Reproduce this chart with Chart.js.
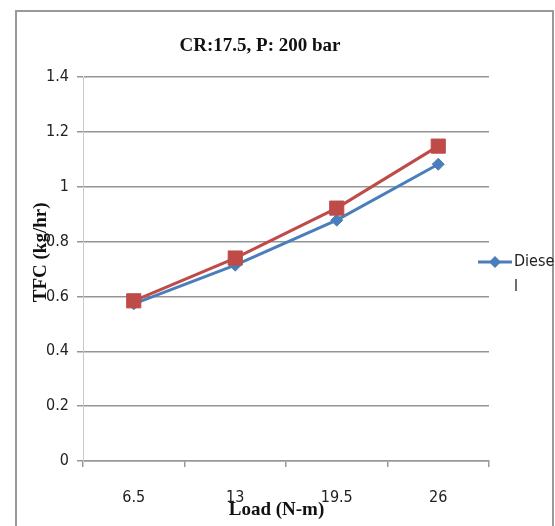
<!DOCTYPE html>
<html>
<head>
<meta charset="utf-8">
<script src="https://cdn.jsdelivr.net/npm/chart.js@4/dist/chart.umd.min.js"></script>
<style>
html,body{margin:0;padding:0;background:#fff;}
canvas{display:block;}
</style>
</head>
<body>
<canvas id="c" width="555" height="526"></canvas>
<script>
const categories = ['6.5', '13', '19.5', '26'];
const dieselValues = [0.573, 0.714, 0.878, 1.082];
const blendValues = [0.584, 0.740, 0.922, 1.148];
const seriesNames = ['Diesel', 'Blend'];
const yTickLabels = ['0', '0.2', '0.4', '0.6', '0.8', '1', '1.2', '1.4'];
const titleText = 'CR:17.5, P: 200 bar';
const xTitleText = 'Load (N-m)';
const yTitleText = 'TFC (kg/hr)';

const BLUE = '#4a7ebb';
const RED = '#be4b48';
const NARROW = "'Liberation Sans Narrow', 'DejaVu Sans Condensed', Arial, sans-serif";
const SERIF = "'Liberation Serif', 'Times New Roman', serif";

const decor = {
  id: 'decor',
  beforeDraw(chart) {
    const ctx = chart.ctx;
    ctx.save();
    ctx.fillStyle = '#fff';
    ctx.fillRect(0, 0, chart.width, chart.height);
    ctx.strokeStyle = '#999';
    ctx.lineWidth = 2;
    ctx.strokeRect(16, 11, 537, 600);
    ctx.restore();
  },
  afterDraw(chart) {
    const ctx = chart.ctx;
    ctx.save();
    // chart title
    ctx.fillStyle = '#111';
    ctx.font = 'bold 19px ' + SERIF;
    ctx.textAlign = 'center';
    ctx.textBaseline = 'alphabetic';
    ctx.fillText(titleText, 260, 51);
    // legend (only first series visible, text wrapped)
    const ly = 262;
    ctx.strokeStyle = BLUE;
    ctx.lineWidth = 3;
    ctx.beginPath();
    ctx.moveTo(478, ly);
    ctx.lineTo(512, ly);
    ctx.stroke();
    ctx.fillStyle = BLUE;
    ctx.beginPath();
    ctx.moveTo(495, ly - 6);
    ctx.lineTo(501, ly);
    ctx.lineTo(495, ly + 6);
    ctx.lineTo(489, ly);
    ctx.closePath();
    ctx.fill();
    const name = seriesNames[0];
    ctx.fillStyle = '#222';
    ctx.font = '16px ' + NARROW;
    ctx.textAlign = 'left';
    ctx.textBaseline = 'middle';
    ctx.fillText(name.slice(0, -1), 514, ly);
    ctx.fillText(name.slice(-1), 514, ly + 25);
    ctx.restore();
  }
};

new Chart(document.getElementById('c'), {
  type: 'line',
  data: {
    labels: categories,
    datasets: [
      {
        label: seriesNames[0],
        data: dieselValues,
        borderColor: BLUE,
        backgroundColor: BLUE,
        borderWidth: 3,
        pointStyle: 'rectRot',
        pointRadius: 6,
        pointBorderWidth: 1,
        tension: 0,
        order: 1
      },
      {
        label: seriesNames[1],
        data: blendValues,
        borderColor: RED,
        backgroundColor: RED,
        borderWidth: 3,
        pointStyle: 'rect',
        pointRadius: 10,
        pointBorderWidth: 1,
        tension: 0,
        order: 0
      }
    ]
  },
  options: {
    responsive: false,
    animation: false,
    layout: { padding: { top: 77, left: 20, right: 66, bottom: 0 } },
    plugins: {
      legend: { display: false },
      title: { display: false },
      tooltip: { enabled: false }
    },
    scales: {
      x: {
        offset: true,
        grid: {
          offset: true,
          drawOnChartArea: false,
          drawTicks: true,
          tickLength: 6,
          color: '#999',
          lineWidth: 1.5
        },
        border: { color: '#999', width: 1.5 },
        ticks: {
          color: '#222',
          font: { family: NARROW, size: 16 },
          padding: 21,
          maxRotation: 0
        },
        title: {
          display: true,
          text: xTitleText + '    ',
          color: '#111',
          font: { family: SERIF, size: 19, weight: 'bold' },
          padding: { top: 0, bottom: 5 }
        },
        afterFit(scale) { scale.height = 65; }
      },
      y: {
        min: 0,
        max: 1.4,
        ticks: {
          stepSize: 0.2,
          color: '#222',
          font: { family: NARROW, size: 16 },
          padding: 8,
          callback: (v, i) => yTickLabels[i]
        },
        grid: {
          color: '#959595',
          lineWidth: 1.5,
          tickLength: 6
        },
        border: { color: '#c8c8c8', width: 1 },
        title: {
          display: true,
          text: '       ' + yTitleText,
          color: '#111',
          font: { family: SERIF, size: 19, weight: 'bold' },
          padding: { top: 10, bottom: 0 }
        },
        afterFit(scale) { scale.width = 63; }
      }
    }
  },
  plugins: [decor]
});
</script>
</body>
</html>
